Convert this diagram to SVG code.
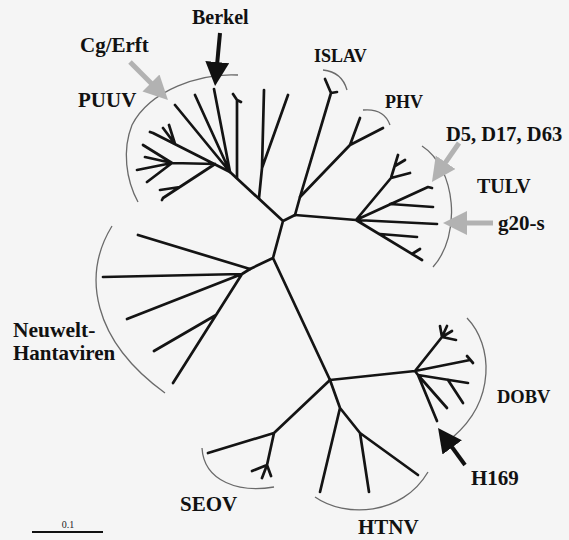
<svg xmlns="http://www.w3.org/2000/svg" width="569" height="540" viewBox="0 0 569 540">
<defs>
<style>
.br{fill:none;stroke:#141414;stroke-width:2.7;stroke-linecap:round;stroke-linejoin:round}
.arc{fill:none;stroke:#6a6a6a;stroke-width:1.3}
.lb{font-family:"Liberation Serif","Times New Roman",serif;font-weight:bold;fill:#111}
.ag{fill:none;stroke:#b2b2b2;stroke-width:5}
.ab{fill:none;stroke:#111;stroke-width:4}
</style>
<marker id="hg" markerUnits="userSpaceOnUse" markerWidth="26" markerHeight="26" refX="2" refY="12" orient="auto"><path d="M0,0 L24,12 L0,24 z" fill="#b2b2b2"/></marker>
<marker id="hb" markerUnits="userSpaceOnUse" markerWidth="26" markerHeight="26" refX="2" refY="12" orient="auto"><path d="M0,0 L24,12 L0,24 z" fill="#111"/></marker>
</defs>
<rect width="569" height="540" fill="#f5f5f5"/>

<g id="connectors">
<path id="backbone" class="br" d="M283,221 L273,258 M283,221 L295,215 M283,221 L230,172 M273,258 L250,269 M273,258 L330,380"/>
</g>

<g id="puuv">
<path class="br" d="M259,198 L262,168 L264,90 M262,168 L288,95 M230,172 L175,105 M230,172 L195,95 M230,172 L214,89 M237,178 L237,100 L233,94 M237,100 L241,102 M230,172 L153,133 L150,132 M175,144 L163,128 M175,144 L169,125 M215,164 L172,163 M172,163 L143,145 M172,163 L145,157 M172,163 L137,170 M172,163 L147,182 M215,164 L163,198 L162,200 M180,187 L160,190"/>
<path class="arc" d="M238,75 C200,73 150,90 132,125 C122,150 126,180 138,202"/>
<text class="lb" x="78" y="107" font-size="21">PUUV</text>
</g>

<g id="islav">
<path class="br" d="M295,215 L300,197 L331,93 L325,79 M331,93 L337,92"/>
<path class="arc" d="M323,70 Q342,72 347,90"/>
<text class="lb" x="314" y="62" font-size="18">ISLAV</text>
</g>

<g id="phv">
<path class="br" d="M300,197 L350,145 L360,118 M350,145 L383,128"/>
<path class="arc" d="M363,110 Q384,108 390,125"/>
<text class="lb" x="385" y="108" font-size="18">PHV</text>
</g>

<g id="tulv">
<path class="br" d="M295,215 L356,220 M356,220 L391,178 L398,155 M395,166 L405,160 M391,178 L410,173 M356,220 L428,187 L432,188 M390,204 L433,207 M356,220 L437,224 M356,220 L422,260 M380,234 L417,237 M412,254 L420,249"/>
<path class="arc" d="M422,146 C456,168 462,235 433,267"/>
<text class="lb" x="446" y="141" font-size="20.5">D5, D17, D63</text>
<text class="lb" x="477" y="193" font-size="20">TULV</text>
<text class="lb" x="498" y="230" font-size="21">g20-s</text>
</g>

<g id="neuwelt">
<path class="br" d="M250,269 L138,235 M250,269 L242,274 L103,277 M242,274 L127,319 M242,274 L173,383 M216,315 L154,351"/>
<path class="arc" d="M112,226 C82,275 92,340 165,393"/>
<text class="lb" x="13" y="337" font-size="21.5">Neuwelt-</text>
<text class="lb" x="13" y="360" font-size="21">Hantaviren</text>
</g>

<g id="dobv">
<path class="br" d="M330,380 L415,371 M415,371 L442,337 M442,337 L440,326 M442,337 L447,326 M442,337 L452,331 M442,337 L456,340 M415,371 L470,360 M467,356 L473,363 M415,371 L418,375 L468,383 M448,380 L463,403 M418,375 L447,408 M418,375 L437,421"/>
<path class="arc" d="M467,318 C493,345 496,400 453,437"/>
<text class="lb" x="497" y="403" font-size="18.5">DOBV</text>
<text class="lb" x="471" y="485" font-size="21">H169</text>
</g>

<g id="seov">
<path class="br" d="M330,380 L274,433 L208,453 M274,433 L267,465 L252,471 M267,465 L262,478 M267,465 L271,476"/>
<path class="arc" d="M202,448 C204,482 240,493 274,487"/>
<text class="lb" x="180" y="511" font-size="21">SEOV</text>
</g>

<g id="htnv">
<path class="br" d="M330,380 L340,408 L320,492 M340,408 L360,433 L369,492 M360,433 L418,475"/>
<path class="arc" d="M315,497 C345,518 402,516 428,472"/>
<text class="lb" x="358" y="534" font-size="21">HTNV</text>
</g>

<g id="arrows">
<line class="ab" x1="220" y1="33" x2="217.1" y2="64.1" marker-end="url(#hb)"/>
<text class="lb" x="192" y="24" font-size="20">Berkel</text>
<line class="ag" x1="130" y1="62" x2="152.4" y2="84.4" marker-end="url(#hg)"/>
<text class="lb" x="80" y="52" font-size="21">Cg/Erft</text>
<line class="ag" x1="459" y1="143" x2="444.5" y2="163.9" marker-end="url(#hg)"/>
<line class="ag" x1="493" y1="223" x2="465" y2="223" marker-end="url(#hg)"/>
<line class="ab" x1="465" y1="465" x2="451" y2="445.8" marker-end="url(#hb)"/>
</g>

<g id="scale">
<line x1="32" y1="532" x2="103" y2="532" stroke="#111" stroke-width="2"/>
<text x="68" y="528" font-size="10" text-anchor="middle" font-family="Liberation Serif, serif" fill="#222">0.1</text>
</g>
</svg>
